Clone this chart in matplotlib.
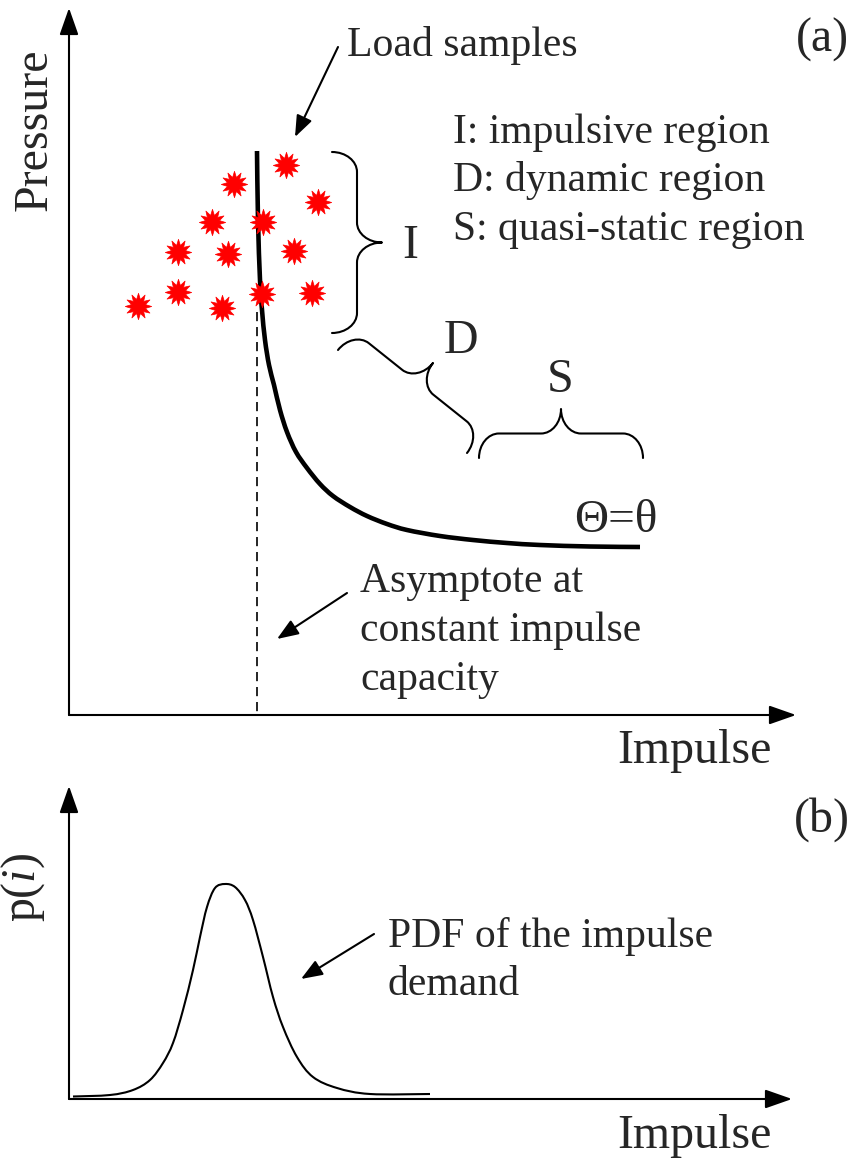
import numpy as np
import matplotlib.pyplot as plt
from matplotlib.path import Path
from matplotlib.patches import PathPatch

plt.rcParams['font.family'] = ['Liberation Serif', 'DejaVu Serif']
plt.rcParams['mathtext.fontset'] = 'custom'
plt.rcParams['mathtext.rm'] = 'Liberation Serif'
plt.rcParams['mathtext.it'] = 'Liberation Serif:italic'

# sketch coordinates (canvas units, y grows downward)
# capacity curve Theta = theta
curve_x = [257, 258, 260, 262, 265, 269, 274, 280, 287, 296, 307, 320, 333, 350,
           367, 387, 407, 440, 473, 507, 540, 590, 640]
curve_y = [151, 220, 280, 310, 340, 365, 385, 410, 432, 452, 468, 484, 496, 507,
           516, 524, 530, 536, 540, 543, 545, 546.5, 547]

# load samples
star_x = [286, 234, 318, 212, 263, 178, 228, 294, 178, 138, 222, 262, 312]
star_y = [165, 184, 202, 222, 222, 252, 254, 251, 292, 306, 308, 294, 293]

# asymptote
asym_x = 257
asym_y = [312, 715]

# impulse demand pdf
pdf_x = [73, 110, 133, 150, 163, 173, 183, 193, 200, 207, 215, 225, 235, 245,
         253, 263, 273, 283, 297, 313, 337, 370, 430]
pdf_y = [1096.5, 1095, 1090, 1080, 1063, 1043, 1010, 970, 937, 907, 888, 884, 887,
         900, 920, 957, 997, 1027, 1057, 1077, 1088, 1094, 1094]

# region braces: end 1, end 2, tip
braces = {
    'I': [(332, 152), (332, 333), (382, 242.5)],
    'D': [(338, 350), (467, 453), (433, 363)],
    'S': [(479, 458), (643, 458), (561, 409)],
}

legend_lines = ['I: impulsive region', 'D: dynamic region', 'S: quasi-static region']

txt = '#262626'
big = 34.5
mid = 30


def smooth_line(ax, xs, ys, **kw):
    # Catmull-Rom through the points, drawn as cubic Bezier segments
    P = np.column_stack([xs, ys]).astype(float)
    verts = [P[0]]
    codes = [Path.MOVETO]
    for i in range(len(P) - 1):
        p0 = P[max(i - 1, 0)]
        p1, p2 = P[i], P[i + 1]
        p3 = P[min(i + 2, len(P) - 1)]
        verts += [p1 + (p2 - p0) / 6, p2 - (p3 - p1) / 6, p2]
        codes += [Path.CURVE4] * 3
    ax.add_patch(PathPatch(Path(verts, codes), fill=False, **kw))


def draw_brace(ax, p0, p1, tip, r=20, lw=1.5):
    p0, p1, tip = np.array(p0, float), np.array(p1, float), np.array(tip, float)
    L = np.linalg.norm(p1 - p0)
    t = (p1 - p0) / L
    m = (p0 + p1) / 2
    h = np.linalg.norm(tip - m)
    n = (tip - m) / h
    k = 0.552
    uv = [(0, 0),
          (0, k * h / 2), (r - k * r, h / 2), (r, h / 2),
          (L / 2 - r, h / 2),
          (L / 2 - r + k * r, h / 2), (L / 2, h - k * h / 2), (L / 2, h),
          (L / 2, h - k * h / 2), (L / 2 + r - k * r, h / 2), (L / 2 + r, h / 2),
          (L - r, h / 2),
          (L - r + k * r, h / 2), (L, k * h / 2), (L, 0)]
    pts = [p0 + u * t + v * n for u, v in uv]
    codes = [Path.MOVETO] + [Path.CURVE4] * 3 + [Path.LINETO] + [Path.CURVE4] * 6 \
        + [Path.LINETO] + [Path.CURVE4] * 3
    ax.add_patch(PathPatch(Path(pts, codes), fill=False, lw=lw, ec='k',
                           capstyle='round', joinstyle='round'))


def arrow(ax, tail, tip, hl, hw, lw=1.5):
    ax.annotate('', xy=tip, xytext=tail,
                arrowprops=dict(arrowstyle=f'-|>,head_length={hl},head_width={hw}',
                                mutation_scale=10, lw=lw, color='k',
                                shrinkA=0, shrinkB=0))


fig = plt.figure(figsize=(8.53, 11.63), dpi=100)
ax = fig.add_axes([0, 0, 1, 1])
ax.set_xlim(0, 853)
ax.set_ylim(1163, 0)
ax.axis('off')

# ---- (a) pressure-impulse diagram ----
arrow(ax, (69, 715), (69, 8), 1.65, 0.58)
arrow(ax, (69, 715), (796, 715), 1.65, 0.58)

ax.plot([asym_x, asym_x], asym_y, color='k', lw=1.2, ls=(0, (5.5, 3.5)))
smooth_line(ax, curve_x, curve_y, ec='k', lw=3.3, capstyle='butt')

star = Path.unit_regular_star(12, 0.55)
ax.plot(star_x, star_y, ls='none', marker=star, ms=19, color='#ff0000',
        mec='#ff0000', mew=0.5, zorder=5)

for name, (a, b, c) in braces.items():
    draw_brace(ax, a, b, c)

ax.text(410, 258, 'I', fontsize=big, color=txt, ha='center', va='baseline')
ax.text(461, 353, 'D', fontsize=big, color=txt, ha='center', va='baseline')
ax.text(560, 392, 'S', fontsize=big, color=txt, ha='center', va='baseline')
ax.text(616, 532, 'Θ=θ', fontsize=34, color=txt, ha='center', va='baseline')

for i, line in enumerate(legend_lines):
    ax.text(453, 143 + 48.5 * i, line, fontsize=mid, color=txt, va='baseline')

ax.text(347, 56, 'Load samples', fontsize=mid, color=txt, va='baseline')
arrow(ax, (338, 47), (295, 137), 1.3, 0.5)

for i, line in enumerate(['Asymptote at', 'constant impulse', 'capacity']):
    ax.text(360, 592 + 49 * i, line, fontsize=mid, color=txt, va='baseline')
arrow(ax, (347, 593), (277, 639), 1.3, 0.5)

ax.text(47, 130, 'Pressure', fontsize=big, color=txt, rotation=90,
        rotation_mode='anchor', ha='center', va='baseline')
ax.text(694, 763, 'Impulse', fontsize=big, color=txt, ha='center', va='baseline')
ax.text(822, 52, '(a)', fontsize=big, color=txt, ha='center', va='baseline')

# ---- (b) impulse demand ----
arrow(ax, (69, 1099), (69, 786), 1.65, 0.58)
arrow(ax, (69, 1099), (792, 1099), 1.65, 0.58)

smooth_line(ax, pdf_x, pdf_y, ec='k', lw=1.5)

ax.text(388, 947, 'PDF of the impulse', fontsize=mid, color=txt, va='baseline')
ax.text(388, 995, 'demand', fontsize=mid, color=txt, va='baseline')
arrow(ax, (374, 934), (301, 979), 1.3, 0.5)

ax.text(35, 887, 'p($i$)', fontsize=big, color=txt, rotation=90,
        rotation_mode='anchor', ha='center', va='baseline')
ax.text(694, 1148, 'Impulse', fontsize=big, color=txt, ha='center', va='baseline')
ax.text(822, 832, '(b)', fontsize=big, color=txt, ha='center', va='baseline')

fig.savefig('out.png', dpi=100)
